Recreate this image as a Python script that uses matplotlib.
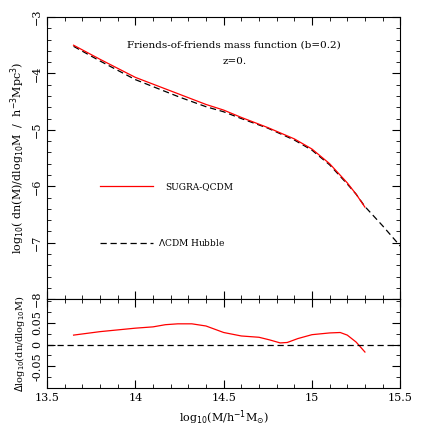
import matplotlib
matplotlib.use('Agg')
import matplotlib.pyplot as plt
import numpy as np
from matplotlib.ticker import MultipleLocator

# mass function curves
logm_red = [13.65, 13.8, 14.0, 14.25, 14.4, 14.5, 14.6, 14.75, 14.9, 15.0, 15.1, 15.2, 15.25, 15.3]
dn_red = [-3.50, -3.75, -4.07, -4.37, -4.55, -4.65, -4.78, -4.96, -5.16, -5.34, -5.60, -5.94, -6.14, -6.37]
logm_lcdm = [13.65, 13.8, 14.0, 14.25, 14.4, 14.5, 14.6, 14.75, 14.9, 15.0, 15.1, 15.2, 15.25, 15.3, 15.4, 15.5]
dn_lcdm = [-3.52, -3.78, -4.11, -4.42, -4.59, -4.68, -4.80, -4.97, -5.18, -5.36, -5.62, -5.96, -6.14, -6.36, -6.70, -7.06]

# residual
logm_res = [13.65, 13.8, 14.0, 14.1, 14.17, 14.24, 14.32, 14.4, 14.5, 14.6, 14.7, 14.76, 14.82, 14.86, 14.92, 15.0, 15.1, 15.16, 15.2, 15.25, 15.3]
d_res = [0.022, 0.03, 0.038, 0.041, 0.046, 0.048, 0.048, 0.043, 0.028, 0.02, 0.017, 0.011, 0.004, 0.005, 0.014, 0.023, 0.027, 0.028, 0.022, 0.006, -0.017]

plt.rcParams['font.family'] = 'DejaVu Serif'
fig = plt.figure(figsize=(4.36, 4.36), dpi=100)
ax = fig.add_axes([0.108, 0.314, 0.81, 0.647])
ax2 = fig.add_axes([0.108, 0.11, 0.81, 0.204], sharex=ax)

ax.plot(logm_lcdm, dn_lcdm, color='k', ls=(0, (5, 3)), lw=0.9)
ax.plot(logm_red, dn_red, color='red', lw=0.9)
ax.plot([13.8, 14.1], [-6.0, -6.0], color='red', lw=0.9)
ax.text(14.17, -6.0, 'SUGRA-QCDM', fontsize=6.5, va='center')
ax.plot([13.8, 14.1], [-7.0, -7.0], color='k', ls=(0, (5, 3)), lw=0.9)
ax.text(14.13, -7.0, r'$\Lambda$CDM Hubble', fontsize=6.5, va='center')
ax.text(14.56, -3.5, 'Friends-of-friends mass function (b=0.2)', fontsize=7.5, ha='center', va='center')
ax.text(14.56, -3.78, 'z=0.', fontsize=7.5, ha='center', va='center')

ax.set_xlim(13.5, 15.5)
ax.set_ylim(-8, -3)
ax.set_ylabel(r'log$_{10}$( dn(M)/dlog$_{10}$M  /  h$^{-3}$Mpc$^3$)', fontsize=8)
ax.yaxis.set_major_locator(MultipleLocator(1))
ax.yaxis.set_minor_locator(MultipleLocator(0.2))
ax.xaxis.set_major_locator(MultipleLocator(0.5))
ax.xaxis.set_minor_locator(MultipleLocator(0.1))
plt.setp(ax.get_xticklabels(), visible=False)

ax2.plot(logm_res, d_res, color='red', lw=0.9)
ax2.axhline(0, color='k', ls=(0, (5, 3)), lw=0.9)
ax2.set_ylim(-0.1, 0.105)
ax2.set_yticks([-0.05, 0, 0.05])
ax2.set_yticklabels(['-0.05', '0', '0.05'])
ax2.yaxis.set_minor_locator(MultipleLocator(0.025))
ax2.set_xticks([13.5, 14, 14.5, 15, 15.5])
ax2.set_xticklabels(['13.5', '14', '14.5', '15', '15.5'])
ax2.set_xlabel(r'log$_{10}$(M/h$^{-1}$M$_{\odot}$)', fontsize=8)
ax2.set_ylabel(r'$\Delta$log$_{10}$(dn/dlog$_{10}$M)', fontsize=7)

for a in (ax, ax2):
    a.tick_params(which='both', direction='in', top=True, right=True, labelsize=8)
    a.tick_params(which='major', length=6)
    a.tick_params(which='minor', length=3)
    a.tick_params(axis='y', labelrotation=90)
    for lab in a.get_yticklabels():
        lab.set_va('center')

fig.savefig('out.png', dpi=100)
